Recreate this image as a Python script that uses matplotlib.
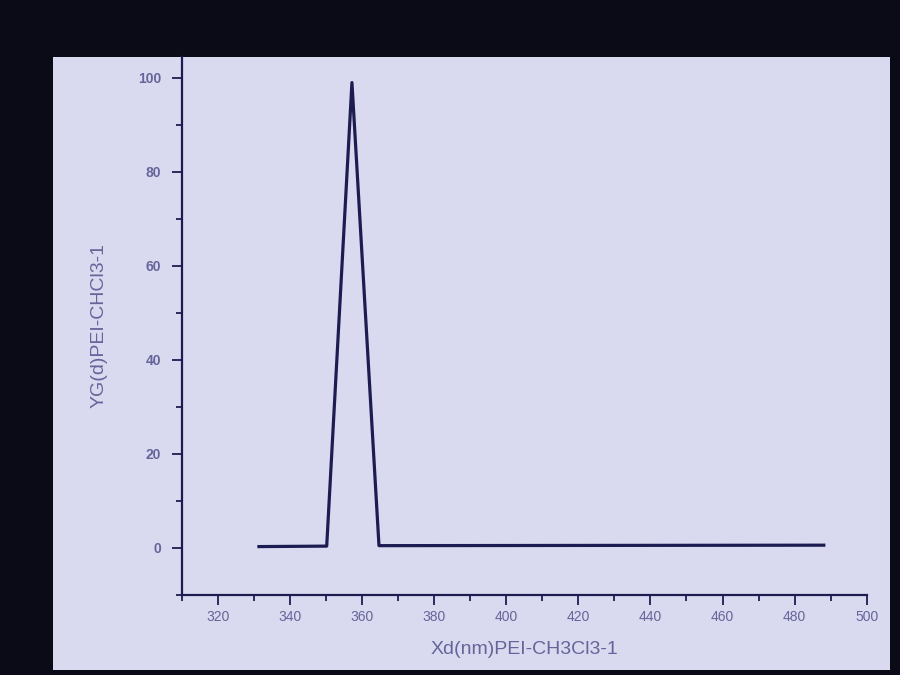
import matplotlib.pyplot as plt
from matplotlib.patches import Rectangle
from matplotlib.ticker import MultipleLocator

# peak vertices (wavelength nm, intensity)
WAVELENGTH = [331.4, 350.2, 357.2, 364.7, 488.1]
INTENSITY = [0.3, 0.4, 99.0, 0.5, 0.6]

X_LABEL = "Xd(nm)PEI-CH3Cl3-1"
Y_LABEL = "YG(d)PEI-CHCl3-1"

SCREEN = "#d9d9ef"
BEZEL = "#0b0b18"
INK = "#1c1c52"
TEXT = "#65659a"

plt.rcParams["font.family"] = ["Liberation Sans", "DejaVu Sans"]


def main():
    fig = plt.figure(figsize=(9, 6.75), dpi=100)
    fig.patch.set_facecolor(BEZEL)

    # monitor area, kept behind the axes
    fig.patches.append(Rectangle((0.059, 0.007), 0.93, 0.909,
                                 transform=fig.transFigure,
                                 facecolor=SCREEN, edgecolor="none", zorder=-10))

    ax = fig.add_axes([0.202, 0.1185, 0.761, 0.7975])
    ax.set_facecolor("none")

    ax.plot(WAVELENGTH, INTENSITY, color=INK, lw=2.3)

    ax.set_xlim(310, 500)
    ax.set_ylim(-10, 104.5)

    ax.xaxis.set_major_locator(MultipleLocator(20))
    ax.xaxis.set_minor_locator(MultipleLocator(10))
    ax.yaxis.set_major_locator(MultipleLocator(20))
    ax.yaxis.set_minor_locator(MultipleLocator(10))

    for side in ("top", "right"):
        ax.spines[side].set_visible(False)
    for side in ("left", "bottom"):
        ax.spines[side].set_color(INK)
        ax.spines[side].set_linewidth(1.6)

    ax.tick_params(which="major", length=7, width=1.3, color=INK)
    ax.tick_params(which="minor", length=4, width=1.3, color=INK)
    ax.tick_params(axis="x", labelsize=10, labelcolor=TEXT, pad=4)
    ax.tick_params(axis="y", labelsize=10, labelcolor=TEXT, pad=8)
    for lbl in ax.get_yticklabels():
        lbl.set_fontweight("bold")
    for lbl in ax.get_yticklabels()[-1:]:
        lbl.set_color(INK)

    ax.set_xlabel(X_LABEL, fontsize=14, color=TEXT, labelpad=12)
    ax.set_ylabel(Y_LABEL, fontsize=14, color=TEXT, labelpad=22)

    fig.savefig("out.png", dpi=100, facecolor=fig.get_facecolor())
    plt.close(fig)


if __name__ == "__main__":
    main()
